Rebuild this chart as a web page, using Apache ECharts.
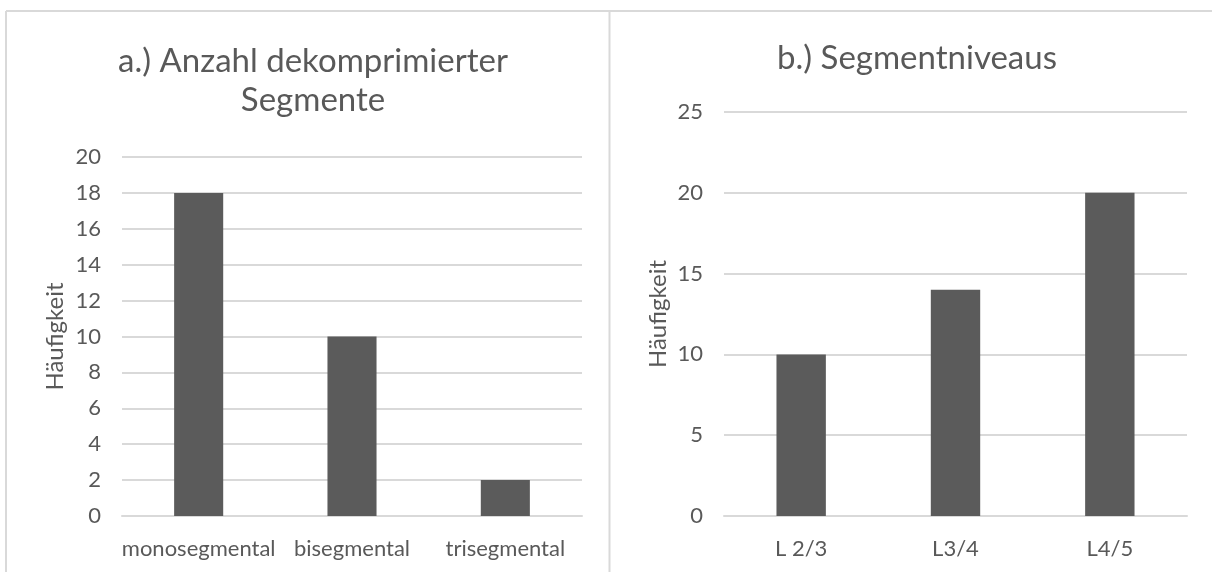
<!DOCTYPE html>
<html><head><meta charset="utf-8">
<script src="https://cdn.jsdelivr.net/npm/echarts@6/dist/echarts.min.js"></script>
<style>html,body{margin:0;padding:0;background:#fff}#c{width:1212px;height:572px}</style>
</head><body><div id="c"></div>
<script>
const catsA = ['monosegmental', 'bisegmental', 'trisegmental'];
const valsA = [18, 10, 2];
const catsB = ['L 2/3', 'L3/4', 'L4/5'];
const valsB = [10, 14, 20];
const titleA = 'a.) Anzahl dekomprimierter\nSegmente';
const titleB = 'b.) Segmentniveaus';
const yName = 'Häufigkeit';

const FONT = 'Lato, "Open Sans", sans-serif';
const TXT = '#595959';
const GRID = '#d9d9d9';
const BAR = '#5b5b5b';

const chart = echarts.init(document.getElementById('c'), null, {renderer: 'canvas'});
function xAxis(idx, cats) {
  return {
    type: 'category', gridIndex: idx, data: cats,
    axisTick: {show: false},
    axisLine: {lineStyle: {color: GRID, width: 2}},
    axisLabel: {color: TXT, fontFamily: FONT, fontSize: 22, margin: 22, interval: 0, hideOverlap: false}
  };
}
function yAxis(idx, max, interval, gap) {
  return {
    type: 'value', gridIndex: idx, min: 0, max: max, interval: interval,
    name: yName, nameLocation: 'middle', nameGap: gap, nameRotate: 90,
    nameTextStyle: {color: TXT, fontFamily: FONT, fontSize: 24},
    axisLine: {show: false}, axisTick: {show: false},
    axisLabel: {color: TXT, fontFamily: FONT, fontSize: 22, margin: 21},
    splitLine: {lineStyle: {color: GRID, width: 2}}
  };
}
chart.setOption({
  backgroundColor: '#fff',
  animation: false,
  title: [
    {text: titleA, left: 308, top: 37, textAlign: 'center',
     textStyle: {color: TXT, fontFamily: FONT, fontSize: 33, fontWeight: 'normal', lineHeight: 39}},
    {text: titleB, left: 912, top: 34, textAlign: 'center',
     textStyle: {color: TXT, fontFamily: FONT, fontSize: 33, fontWeight: 'normal', lineHeight: 39}}
  ],
  grid: [
    {left: 122, right: 630, top: 157, bottom: 56},
    {left: 724, right: 25, top: 112, bottom: 56}
  ],
  xAxis: [xAxis(0, catsA), xAxis(1, catsB)],
  yAxis: [yAxis(0, 20, 2, 55), yAxis(1, 25, 5, 54)],
  series: [
    {type: 'bar', xAxisIndex: 0, yAxisIndex: 0, data: valsA, barWidth: '32%', itemStyle: {color: BAR}},
    {type: 'bar', xAxisIndex: 1, yAxisIndex: 1, data: valsB, barWidth: '32%', itemStyle: {color: BAR}}
  ],
  graphic: [
    {type: 'line', shape: {x1: 6, y1: 11, x2: 1212, y2: 11}, style: {stroke: '#d9d9d9', lineWidth: 2}},
    {type: 'line', shape: {x1: 6, y1: 11, x2: 6, y2: 572}, style: {stroke: '#d9d9d9', lineWidth: 2}},
    {type: 'line', shape: {x1: 609.5, y1: 11, x2: 609.5, y2: 572}, style: {stroke: '#d9d9d9', lineWidth: 2}}
  ]
});
</script></body></html>
